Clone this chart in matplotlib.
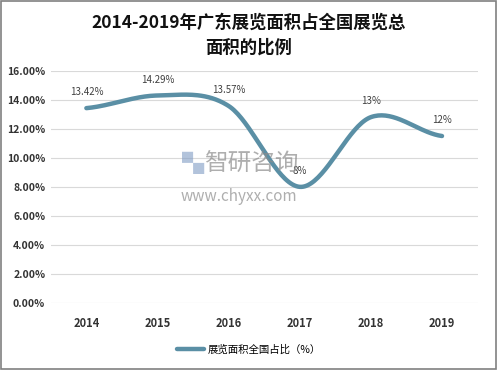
import numpy as np
import matplotlib.pyplot as plt
from matplotlib.ticker import FuncFormatter

plt.rcParams['font.family'] = ['Noto Sans CJK SC', 'DejaVu Sans']

years = ['2014', '2015', '2016', '2017', '2018', '2019']
share = [13.42, 14.29, 13.57, 8.0, 12.8, 11.5]
labels = ['13.42%', '14.29%', '13.57%', '8%', '13%', '12%']


def smooth(x, y, n=40):
    # Catmull-Rom style curve, like Excel's smoothed line
    x = np.asarray(x, float)
    y = np.asarray(y, float)
    px = np.concatenate([[2 * x[0] - x[1]], x, [2 * x[-1] - x[-2]]])
    py = np.concatenate([[y[0]], y, [y[-1]]])
    xs, ys = [], []
    for i in range(1, len(px) - 2):
        t = np.linspace(0, 1, n)
        p0, p1, p2, p3 = py[i - 1], py[i], py[i + 1], py[i + 2]
        q0, q1, q2, q3 = px[i - 1], px[i], px[i + 1], px[i + 2]
        ys.append(0.5 * (2 * p1 + (-p0 + p2) * t + (2 * p0 - 5 * p1 + 4 * p2 - p3) * t**2 + (-p0 + 3 * p1 - 3 * p2 + p3) * t**3))
        xs.append(0.5 * (2 * q1 + (-q0 + q2) * t + (2 * q0 - 5 * q1 + 4 * q2 - q3) * t**2 + (-q0 + 3 * q1 - 3 * q2 + q3) * t**3))
    return np.concatenate(xs), np.concatenate(ys)


fig = plt.figure(figsize=(4.98, 3.7), dpi=100)
ax = fig.add_axes([0.102, 0.181, 0.857, 0.628])

x = np.arange(len(years))
sx, sy = smooth(x, share)
ax.plot(sx, sy, color='#5a8fa5', lw=3.2, solid_capstyle='round', label='展览面积全国占比（%）', zorder=3)

for xi, yi, lab in zip(x, share, labels):
    ax.text(xi, yi + 0.75, lab, ha='center', va='bottom', fontsize=7, color='#404040', zorder=4)

ax.set_xlim(-0.5, len(years) - 0.5)
ax.set_ylim(0, 16)
ax.set_yticks(np.arange(0, 17, 2))
ax.yaxis.set_major_formatter(FuncFormatter(lambda v, p: '%.2f%%' % v))
ax.set_xticks(x)
ax.set_xticklabels(years, fontweight='bold', fontsize=8, color='#333333')
for t in ax.get_yticklabels():
    t.set_fontsize(7.5)
    t.set_fontweight('bold')
    t.set_color('#333333')
ax.tick_params(length=0, pad=10)
ax.tick_params(axis='y', pad=4)
ax.grid(axis='y', color='#d9d9d9', lw=0.8)
for s in ax.spines.values():
    s.set_visible(False)

fig.text(0.5, 0.905, '2014-2019年广东展览面积占全国展览总\n面积的比例', ha='center', va='center',
         fontsize=12.5, fontweight='bold', linespacing=1.45, color='#111111')

# watermark
fig.text(0.365, 0.555, '▚', fontsize=16, color='#7f9cc4', alpha=0.6, ha='left', va='center')
fig.text(0.41, 0.555, '智研咨询', fontsize=17, color='#8c8c8c', alpha=0.7, ha='left', va='center')
fig.text(0.362, 0.468, 'www.chyxx.com', fontsize=11, color='#8c8c8c', alpha=0.7, ha='left', va='center')

leg = fig.legend(loc='lower center', bbox_to_anchor=(0.5, 0.015), frameon=False, fontsize=7.5,
                 handlelength=2.6, handletextpad=0.3)

fig.add_artist(plt.Rectangle((0.003, 0.004), 0.992, 0.992, transform=fig.transFigure,
                             fill=False, ec='#808080', lw=1.2))

fig.savefig('out.png', dpi=100)
